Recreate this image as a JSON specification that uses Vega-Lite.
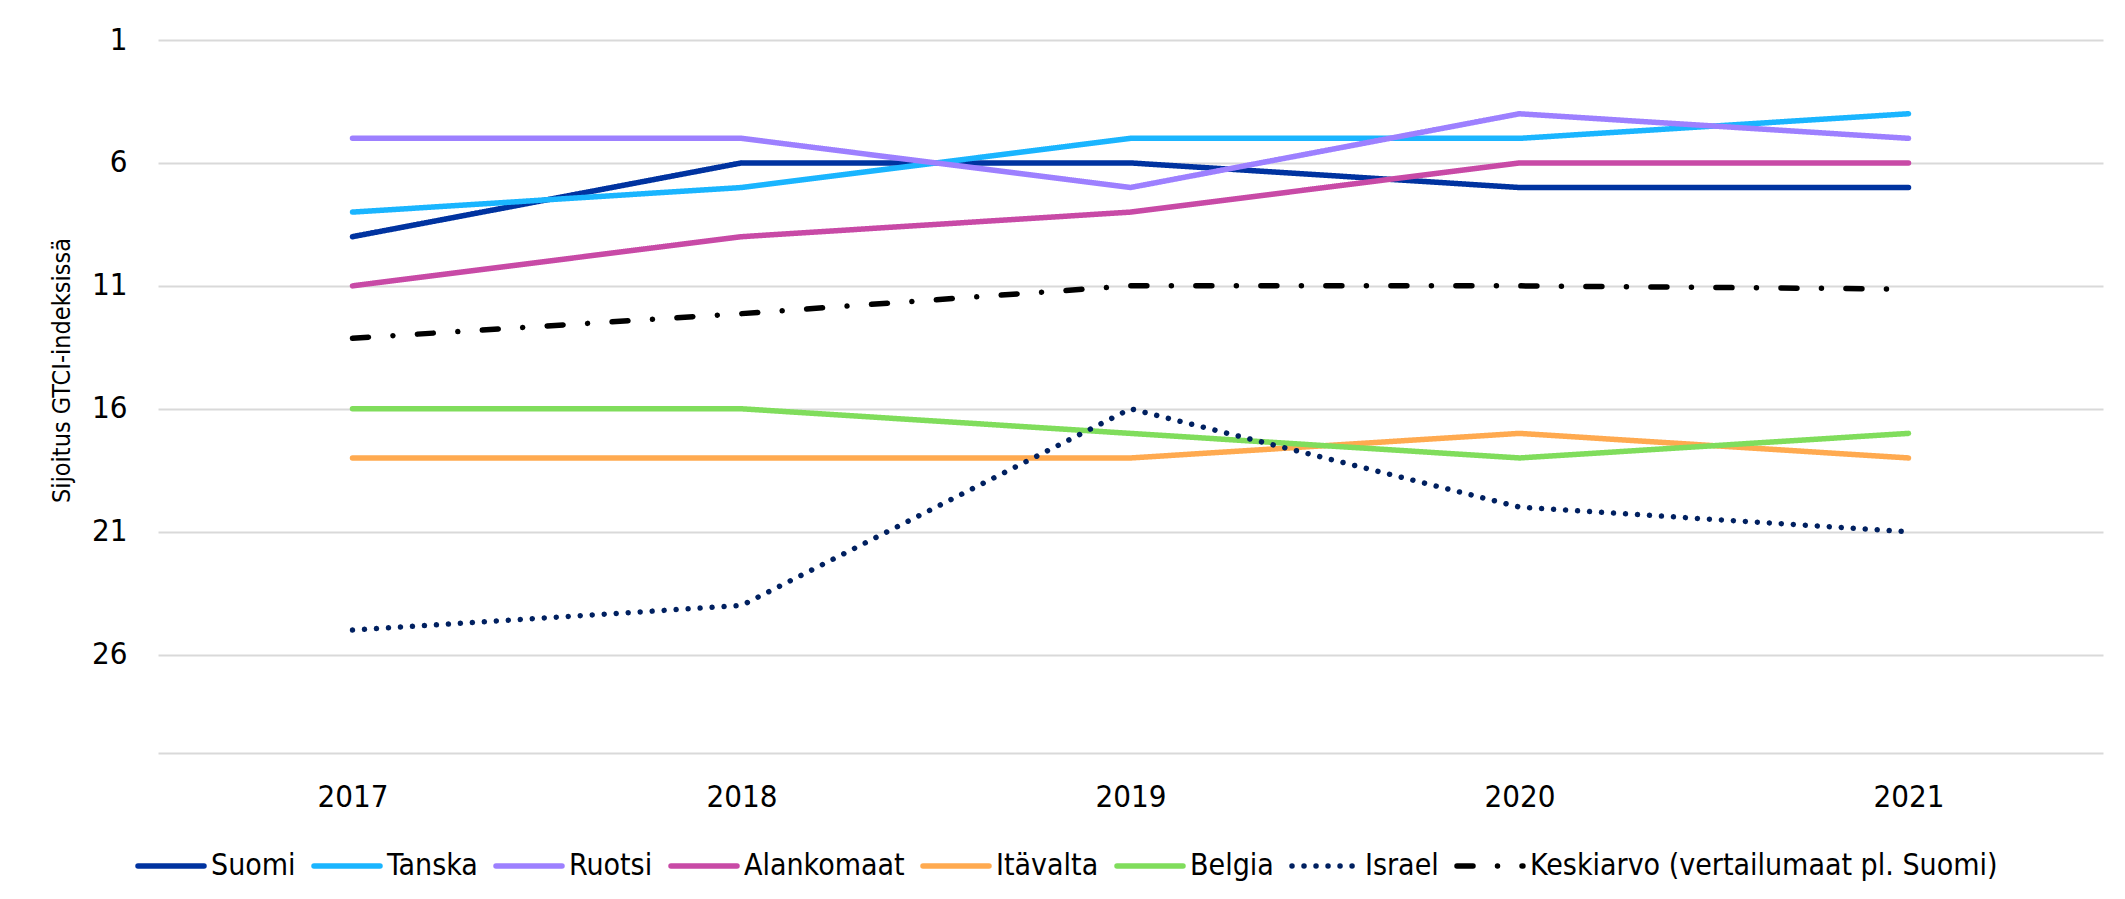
{
  "$schema": "https://vega.github.io/schema/vega-lite/v6.json",
  "autosize": "none",
  "padding": {"left": 158, "top": 40, "right": 22, "bottom": 146},
  "width": 1945,
  "height": 713,
  "background": "white",
  "config": {
    "view": {"stroke": null},
    "font": "DejaVu Sans Condensed, Liberation Sans"
  },
  "data": {
    "values": [
      {"year": "2017", "country": "Suomi", "rank": 9},
      {"year": "2018", "country": "Suomi", "rank": 6},
      {"year": "2019", "country": "Suomi", "rank": 6},
      {"year": "2020", "country": "Suomi", "rank": 7},
      {"year": "2021", "country": "Suomi", "rank": 7},
      {"year": "2017", "country": "Tanska", "rank": 8},
      {"year": "2018", "country": "Tanska", "rank": 7},
      {"year": "2019", "country": "Tanska", "rank": 5},
      {"year": "2020", "country": "Tanska", "rank": 5},
      {"year": "2021", "country": "Tanska", "rank": 4},
      {"year": "2017", "country": "Ruotsi", "rank": 5},
      {"year": "2018", "country": "Ruotsi", "rank": 5},
      {"year": "2019", "country": "Ruotsi", "rank": 7},
      {"year": "2020", "country": "Ruotsi", "rank": 4},
      {"year": "2021", "country": "Ruotsi", "rank": 5},
      {"year": "2017", "country": "Alankomaat", "rank": 11},
      {"year": "2018", "country": "Alankomaat", "rank": 9},
      {"year": "2019", "country": "Alankomaat", "rank": 8},
      {"year": "2020", "country": "Alankomaat", "rank": 6},
      {"year": "2021", "country": "Alankomaat", "rank": 6},
      {"year": "2017", "country": "Itävalta", "rank": 18},
      {"year": "2018", "country": "Itävalta", "rank": 18},
      {"year": "2019", "country": "Itävalta", "rank": 18},
      {"year": "2020", "country": "Itävalta", "rank": 17},
      {"year": "2021", "country": "Itävalta", "rank": 18},
      {"year": "2017", "country": "Belgia", "rank": 16},
      {"year": "2018", "country": "Belgia", "rank": 16},
      {"year": "2019", "country": "Belgia", "rank": 17},
      {"year": "2020", "country": "Belgia", "rank": 18},
      {"year": "2021", "country": "Belgia", "rank": 17},
      {"year": "2017", "country": "Israel", "rank": 25},
      {"year": "2018", "country": "Israel", "rank": 24},
      {"year": "2019", "country": "Israel", "rank": 16},
      {"year": "2020", "country": "Israel", "rank": 20},
      {"year": "2021", "country": "Israel", "rank": 21},
      {"year": "2017", "country": "Keskiarvo (vertailumaat pl. Suomi)", "rank": 13.13},
      {"year": "2018", "country": "Keskiarvo (vertailumaat pl. Suomi)", "rank": 12.13},
      {"year": "2019", "country": "Keskiarvo (vertailumaat pl. Suomi)", "rank": 11.0},
      {"year": "2020", "country": "Keskiarvo (vertailumaat pl. Suomi)", "rank": 11.0},
      {"year": "2021", "country": "Keskiarvo (vertailumaat pl. Suomi)", "rank": 11.13}
    ]
  },
  "mark": {"type": "line", "strokeWidth": 5.5, "strokeCap": "round", "strokeJoin": "round"},
  "encoding": {
    "x": {
      "field": "year",
      "type": "ordinal",
      "scale": {"type": "point", "padding": 0.5},
      "axis": {
        "title": null,
        "labelAngle": 0,
        "ticks": false,
        "tickSize": 0,
        "grid": false,
        "domain": true,
        "domainColor": "#d9d9d9",
        "domainWidth": 2,
        "labelFontSize": 31,
        "labelColor": "#000000",
        "labelPadding": 29
      }
    },
    "y": {
      "field": "rank",
      "type": "quantitative",
      "scale": {"domain": [1, 30], "reverse": true, "nice": false, "zero": false},
      "axis": {
        "values": [1, 6, 11, 16, 21, 26],
        "title": "Sijoitus GTCI-indeksissä",
        "titleFontSize": 25,
        "titleFontWeight": "normal",
        "titleColor": "#000000",
        "titleX": -97,
        "titleY": 330,
        "titleBaseline": "middle",
        "titleAngle": -90,
        "domain": false,
        "ticks": false,
        "tickSize": 0,
        "grid": true,
        "gridColor": "#d9d9d9",
        "gridWidth": 2,
        "labelFontSize": 31,
        "labelColor": "#000000",
        "labelPadding": 31
      }
    },
    "color": {
      "field": "country",
      "type": "nominal",
      "scale": {
        "domain": ["Suomi", "Tanska", "Ruotsi", "Alankomaat", "Itävalta", "Belgia", "Israel", "Keskiarvo (vertailumaat pl. Suomi)"],
        "range": ["#0033A0", "#1AB5FF", "#9D80FF", "#C84AA6", "#FFAA50", "#80DD5C", "#002060", "#000000"]
      },
      "legend": {
        "orient": "none",
        "legendX": -23,
        "legendY": 790,
        "direction": "horizontal",
        "columns": 8,
        "title": null,
        "padding": 0,
        "symbolType": "stroke",
        "symbolSize": 4356,
        "symbolStrokeWidth": 5.5,
        "labelFontSize": 30,
        "labelColor": "#000000",
        "labelOffset": 4,
        "columnPadding": 7,
        "labelLimit": 1000,
        "encode": {"symbols": {"update": {"strokeCap": {"value": "round"}}}}
      }
    },
    "strokeDash": {
      "field": "country",
      "type": "nominal",
      "scale": {
        "domain": ["Suomi", "Tanska", "Ruotsi", "Alankomaat", "Itävalta", "Belgia", "Israel", "Keskiarvo (vertailumaat pl. Suomi)"],
        "range": [[1, 0], [1, 0], [1, 0], [1, 0], [1, 0], [1, 0], [0.01, 12], [16, 24.5, 0.01, 24.5]]
      },
      "legend": {
        "orient": "none",
        "legendX": -23,
        "legendY": 790,
        "direction": "horizontal",
        "columns": 8,
        "title": null,
        "padding": 0,
        "symbolType": "stroke",
        "symbolSize": 4356,
        "symbolStrokeWidth": 5.5,
        "labelFontSize": 30,
        "labelColor": "#000000",
        "labelOffset": 4,
        "columnPadding": 7,
        "labelLimit": 1000,
        "encode": {"symbols": {"update": {"strokeCap": {"value": "round"}}}}
      }
    }
  }
}
